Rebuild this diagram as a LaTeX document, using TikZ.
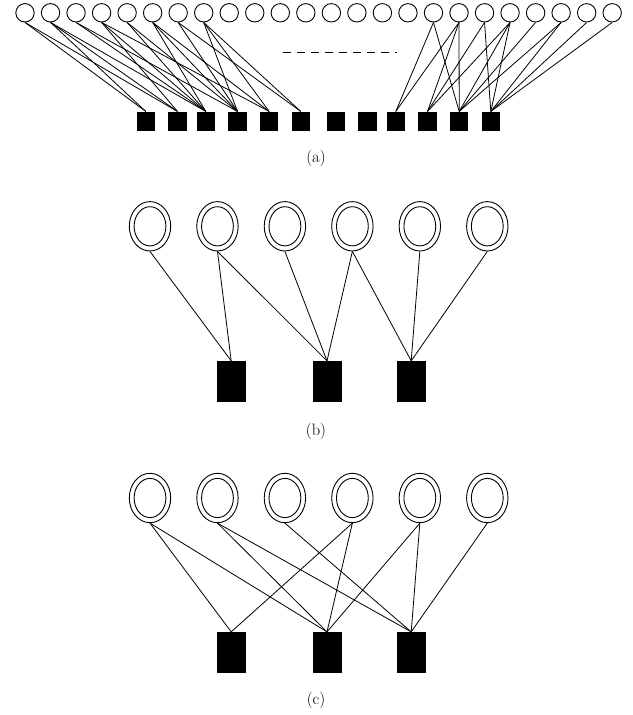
\documentclass[tikz,border=0pt]{standalone}
\usetikzlibrary{shapes.geometric}
\begin{document}
\begin{tikzpicture}[x=1pt,y=-1pt,
  edge/.style={line width=0.8pt},
  acirc/.style={circle,draw,line width=0.9pt,minimum size=18.4pt,inner sep=0pt},
  asq/.style={rectangle,fill=black,draw=none,minimum width=18.5pt,minimum height=19.3pt,inner sep=0pt},
  dcirc/.style={ellipse,draw,line width=0.9pt,minimum width=41.4pt,minimum height=49.4pt,inner sep=0pt,
    path picture={\draw[line width=0.9pt] (path picture bounding box.center) ellipse (15.9pt and 19.6pt);}},
  bsq/.style={rectangle,fill=black,draw=none,minimum width=29pt,minimum height=41.3pt,inner sep=0pt},
  lab/.style={font=\fontsize{16.5}{18}\selectfont}]
\useasboundingbox (0,0) rectangle (632,715);
% ---------- (a) ----------
\foreach \i in {1,...,24}
  \node[acirc] (a\i) at ({25+25.53*(\i-1)},12.8) {};
\foreach \x [count=\i] in {145.8,177.5,205.8,237.5,269.2,300.8,335.8,367.5,395.8,427.5,459.2,490.8}
  \node[asq] (q\i) at (\x,121.3) {};
\foreach \c/\s in {1/1,1/2,2/1,2/2,2/3,3/3,3/4,4/2,4/3,4/5,5/3,5/4,6/3,6/4,6/5,7/4,7/6,8/4,8/5,8/6,
                   17/9,17/11,18/9,18/10,18/11,19/10,19/12,20/10,20/11,20/12,21/11,22/11,22/12,23/12,24/12}
  \draw[edge] (a\c.south) -- (q\s.north);
\coordinate (d1) at (283,52);
\coordinate (d2) at (397,52);
\draw[line width=0.8pt,dash pattern=on 8pt off 6pt] (d1) -- (d2);
\node[lab] (la) at (316,158) {(a)};
% ---------- (b) ----------
\foreach \i in {1,...,6}
  \node[dcirc] (b\i) at ({150+67.46*(\i-1)},226.3) {};
\foreach \x [count=\i] in {231.2,327,411.2}
  \node[bsq] (r\i) at (\x,381.7) {};
\foreach \c/\s in {1/1,2/1,2/2,3/2,4/2,4/3,5/3,6/3}
  \draw[edge] (b\c.south) -- (r\s.north);
\node[lab] (lb) at (316,431) {(b)};
% ---------- (c) ----------
\foreach \i in {1,...,6}
  \node[dcirc] (c\i) at ({150+67.46*(\i-1)},498) {};
\foreach \x [count=\i] in {231.2,327,411.2}
  \node[bsq] (t\i) at (\x,652.7) {};
\foreach \c/\s in {1/1,1/2,2/2,2/3,3/3,4/1,4/2,5/2,5/3,6/3}
  \draw[edge] (c\c.south) -- (t\s.north);
\node[lab] (lc) at (316,700) {(c)};
\end{tikzpicture}
\end{document}
